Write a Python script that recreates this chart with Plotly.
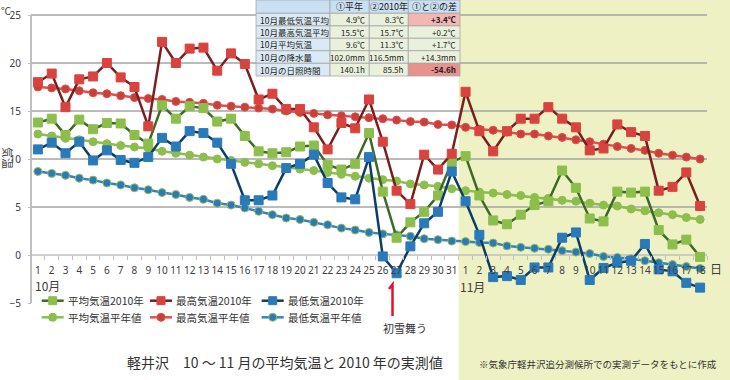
import plotly.graph_objects as go

# ---------------- data ----------------
oct_days = list(range(1, 32))
nov_days = list(range(1, 19))
categories = [f"10/{d}" for d in oct_days] + [f"11/{d}" for d in nov_days]
day_labels = [str(d) for d in oct_days] + [str(d) for d in nov_days]

avg_2010 = [13.8, 14.2, 12.5, 14.1, 13.1, 13.75, 13.7, 12.5, 11.6, 15.6, 14.2, 15.5, 15.3, 13.9, 14.2,
            12.4, 10.8, 10.6, 10.7, 11.3, 11.4, 9.4, 8.9, 9.5, 12.7, 6.6, 1.8, 3.4, 4.5, 6.2, 9.7,
            10.3, 6.2, 3.6, 3.2, 4.2, 5.2, 5.6, 8.8, 7.0, 3.8, 3.5, 6.6, 6.5, 6.6, 2.6, 1.1, 1.6, -0.2]
max_2010 = [18.0, 18.9, 15.4, 18.3, 18.6, 20.0, 18.5, 17.5, 13.4, 22.2, 20.0, 21.5, 21.6, 19.2, 21.0,
            19.9, 16.2, 16.8, 15.2, 15.2, 13.3, 11.0, 13.75, 13.2, 16.2, 11.8, 6.7, 5.3, 10.45, 8.9, 10.55,
            17.0, 12.9, 10.8, 12.9, 14.2, 14.2, 15.4, 14.2, 13.3, 10.9, 11.1, 13.6, 12.8, 12.4, 6.7, 7.1, 8.6, 5.1]
min_2010 = [11.0, 11.7, 10.6, 11.8, 9.85, 10.9, 9.9, 9.6, 10.2, 12.2, 11.3, 12.9, 12.7, 11.7, 9.5,
            5.7, 5.7, 6.2, 9.05, 9.5, 10.45, 7.5, 6.0, 5.8, 10.2, -0.15, -1.9, 0.9, 3.3, 4.5, 8.7,
            5.6, 2.1, -2.3, -2.2, -2.6, -1.3, -1.3, 1.8, 2.35, -2.6, -1.35, -0.8, -0.6, 1.15, -1.5, -1.7, -2.9, -3.4]
avg_normal = [12.6, 12.4, 12.15, 12.0, 11.8, 11.6, 11.4, 11.25, 11.1, 10.8, 10.6, 10.4, 10.2, 10.0, 9.85,
              9.65, 9.5, 9.3, 9.1, 8.95, 8.8, 8.6, 8.4, 8.2, 8.0, 7.85, 7.7, 7.4, 7.3, 7.15, 6.9,
              6.7, 6.55, 6.45, 6.3, 6.2, 6.0, 5.9, 5.7, 5.6, 5.4, 5.2, 5.1, 4.8, 4.6, 4.4, 4.2, 3.9, 3.7]
max_normal = [17.5, 17.4, 17.3, 17.1, 16.9, 16.8, 16.6, 16.4, 16.3, 16.2, 16.0, 15.9, 15.8, 15.6, 15.5,
              15.4, 15.3, 15.2, 15.0, 14.85, 14.75, 14.6, 14.5, 14.4, 14.3, 14.2, 14.05, 13.9, 13.85, 13.6, 13.55,
              13.3, 13.1, 13.0, 12.8, 12.6, 12.6, 12.4, 12.25, 12.0, 11.8, 11.55, 11.3, 11.1, 10.9, 10.6, 10.4, 10.2, 10.0]
min_normal = [8.7, 8.5, 8.3, 8.0, 7.8, 7.5, 7.3, 7.0, 6.8, 6.5, 6.3, 6.0, 5.8, 5.4, 5.2,
              4.9, 4.55, 4.2, 3.85, 3.7, 3.4, 3.15, 2.8, 2.6, 2.35, 2.2, 2.1, 1.95, 1.7, 1.6, 1.45,
              1.4, 1.3, 1.25, 0.95, 0.8, 0.7, 0.6, 0.45, 0.3, 0.15, -0.15, -0.25, -0.4, -0.6, -0.8, -1.0, -1.2, -1.4]

y_ticks = [-5, 0, 5, 10, 15, 20, 25]
grid_values = [5, 10, 15, 20, 25]
Y_MIN, Y_MAX = -5, 25

table_headers = ["", "①平年", "②2010年", "①と②の差"]
table_labels = ["10月最低気温平均", "10月最高気温平均", "10月平均気温", "10月の降水量", "10月の日照時間"]
table_normal = ["4.9℃", "15.5℃", "9.6℃", "102.0mm", "140.1h"]
table_2010 = ["8.3℃", "15.7℃", "11.3℃", "116.5mm", "85.5h"]
table_diff = ["+3.4℃", "+0.2℃", "+1.7℃", "+14.3mm", "-54.6h"]

# ---------------- geometry (figure pixels) ----------------
W, H = 730, 380
PL, PR, PT, PB = 31, 707, 15, 303          # area spanned by the value axes
N = len(categories)
cat_px = (PR - PL) / N
deg_px = (PB - PT) / (Y_MAX - Y_MIN)
x_range = [-0.5 - PL / cat_px, N - 0.5 + (W - PR) / cat_px]
y_range = [Y_MIN - (H - PB) / deg_px, Y_MAX + PT / deg_px]
FONT = "Noto Sans CJK JP"


def fx(x):
    return x / W


def fy(y):
    return 1 - y / H


fig = go.Figure()

# (name, values, symbol, line colour, marker colour, marker outline, legend row, legend column)
series = [
    ("平均気温平年値", avg_normal, "circle", "#8DBE4D", "#8DBE4D", "#8DBE4D", 1, 0),
    ("最高気温平年値", max_normal, "circle", "#E0504B", "#C8403B", "#E0504B", 1, 1),
    ("最低気温平年値", min_normal, "circle", "#2E86C1", "#2A7ABA", "#9BBB59", 1, 2),
    ("平均気温2010年", avg_2010, "square", "#3D6B25", "#8DBE4D", "#8DBE4D", 0, 0),
    ("最高気温2010年", max_2010, "square", "#7A1E1E", "#D9433F", "#D9433F", 0, 1),
    ("最低気温2010年", min_2010, "square", "#0E3D63", "#2A7ABA", "#2A7ABA", 0, 2),
]
for name, vals, sym, lc, mc, mlc, _, _ in series:
    fig.add_trace(go.Scatter(
        x=categories, y=vals, name=name, mode="lines+markers", showlegend=False,
        line=dict(color=lc, width=2.5),
        marker=dict(symbol=sym, size=9 if sym == "square" else 8, color=mc,
                    line=dict(color=mlc, width=1)),
    ))

shapes = []
# light yellow-green November background
shapes.append(dict(type="rect", xref="x", yref="paper",
                   x0=30.5, x1=x_range[1] + 1, y0=0, y1=1,
                   fillcolor="#EEF1C4", line=dict(width=0), layer="below"))
for g in grid_values:
    shapes.append(dict(type="line", xref="x", yref="y", x0=-0.5, x1=N - 0.5, y0=g, y1=g,
                       line=dict(color="#A5A5A5", width=1.3), layer="below"))
# axis lines
shapes.append(dict(type="line", xref="x", yref="y", x0=-0.5, x1=N - 0.5, y0=0, y1=0,
                   line=dict(color="#BFBFBF", width=1.5), layer="below"))
shapes.append(dict(type="line", xref="x", yref="y", x0=-0.5, x1=-0.5, y0=Y_MIN, y1=Y_MAX,
                   line=dict(color="#BFBFBF", width=2), layer="below"))

annotations = []

# ---------------- legend (drawn) ----------------
leg_cols = [41.7, 150, 261.7]
leg_rows = [300.7, 317.3]
for name, vals, sym, lc, mc, mlc, row, col in series:
    x0 = leg_cols[col]
    yc = leg_rows[row]
    shapes.append(dict(type="line", xref="paper", yref="paper",
                       x0=fx(x0), x1=fx(x0 + 22), y0=fy(yc), y1=fy(yc),
                       line=dict(color=lc, width=2.5), layer="above"))
    r = 4
    shapes.append(dict(type="rect" if sym == "square" else "circle", xref="paper", yref="paper",
                       x0=fx(x0 + 11 - r), x1=fx(x0 + 11 + r), y0=fy(yc + r), y1=fy(yc - r),
                       fillcolor=mc, line=dict(color=mlc, width=1), layer="above"))
    annotations.append(dict(xref="paper", yref="paper", x=fx(x0 + 24), y=fy(yc), text=name,
                            showarrow=False, xanchor="left", yanchor="middle",
                            font=dict(family=FONT, size=10.5, color="#333333")))

# ---------------- table ----------------
col_edges = [256, 330, 369.3, 408.3, 460]
row_edges = [0, 13.3, 25.9, 38.3, 50.7, 63.3, 76]
hdr_bg = "#C9DFF2"
lab_bg = "#DAEAF4"
cell_bg = "#E9F0DC"
pink1 = "#F2B6B3"
pink2 = "#E8918D"
for r in range(6):
    for c in range(4):
        if r == 0:
            bg = hdr_bg
        elif c == 0:
            bg = lab_bg
        elif c == 3 and r == 1:
            bg = pink1
        elif c == 3 and r == 5:
            bg = pink2
        else:
            bg = cell_bg
        shapes.append(dict(type="rect", xref="paper", yref="paper",
                           x0=fx(col_edges[c]), x1=fx(col_edges[c + 1]),
                           y0=fy(row_edges[r + 1]), y1=fy(row_edges[r]),
                           fillcolor=bg, line=dict(color="#A6A6A6", width=0.8), layer="above"))
for c, h in enumerate(table_headers):
    if h:
        annotations.append(dict(xref="paper", yref="paper", x=fx((col_edges[c] + col_edges[c + 1]) / 2),
                                y=fy((row_edges[0] + row_edges[1]) / 2), text=h, showarrow=False,
                                xanchor="center", yanchor="middle",
                                font=dict(family=FONT, size=9, color="#222222")))
for i in range(5):
    yc = fy((row_edges[i + 1] + row_edges[i + 2]) / 2)
    annotations.append(dict(xref="paper", yref="paper", x=fx(col_edges[0] + 2), y=yc,
                            text=table_labels[i], showarrow=False, xanchor="left", yanchor="middle",
                            font=dict(family=FONT, size=8.5, color="#222222")))
    for c, arr in ((1, table_normal), (2, table_2010), (3, table_diff)):
        txt = arr[i]
        if c == 3 and i in (0, 4):
            txt = f"<b>{txt}</b>"
        annotations.append(dict(xref="paper", yref="paper", x=fx(col_edges[c + 1] - 2), y=yc,
                                text=txt, showarrow=False, xanchor="right", yanchor="middle",
                                font=dict(family=FONT, size=8, color="#222222")))

# ---------------- other texts ----------------
annotations += [
    dict(xref="paper", yref="paper", x=fx(-1), y=fy(11), text="℃", showarrow=False,
         xanchor="left", yanchor="middle", font=dict(family=FONT, size=10, color="#404040")),
    dict(xref="paper", yref="paper", x=fx(8), y=fy(158), text="気温", showarrow=False, textangle=90,
         xanchor="center", yanchor="middle", font=dict(family=FONT, size=11, color="#404040")),
    dict(xref="paper", yref="paper", x=fx(48), y=fy(285), text="10月", showarrow=False,
         xanchor="center", yanchor="middle", borderpad=0,
         font=dict(family=FONT, size=12, color="#404040")),
    dict(xref="paper", yref="paper", x=fx(473), y=fy(286), text="11月", showarrow=False,
         xanchor="center", yanchor="middle", borderpad=0,
         font=dict(family=FONT, size=12, color="#404040")),
    dict(xref="paper", yref="paper", x=fx(716), y=fy(268), text="日", showarrow=False,
         xanchor="center", yanchor="middle", font=dict(family=FONT, size=12, color="#404040")),
    dict(xref="paper", yref="paper", x=fx(405), y=fy(328), text="初雪舞う", showarrow=False,
         xanchor="center", yanchor="middle", font=dict(family=FONT, size=11, color="#333333")),
    dict(xref="paper", yref="paper", x=fx(285), y=fy(361.5),
         text="軽井沢　10 ～ 11 月の平均気温と 2010 年の実測値", showarrow=False,
         xanchor="center", yanchor="middle", font=dict(family=FONT, size=14, color="#333333")),
    dict(xref="paper", yref="paper", x=fx(598), y=fy(364),
         text="※気象庁軽井沢追分測候所での実測データをもとに作成", showarrow=False,
         xanchor="center", yanchor="middle", font=dict(family=FONT, size=9.5, color="#333333")),
]

# red first-snow marker
shapes.append(dict(type="path", xref="paper", yref="paper",
                   path=(f"M {fx(389)},{fy(289)} L {fx(392.5)},{fy(284.5)} "
                         f"L {fx(392.5)},{fy(316)}"),
                   line=dict(color="#E8102A", width=2.5), layer="above"))

fig.update_layout(
    width=W, height=H,
    margin=dict(l=0, r=0, t=0, b=0, pad=0),
    paper_bgcolor="white", plot_bgcolor="rgba(0,0,0,0)",
    font=dict(family=FONT, color="#404040"),
    showlegend=False,
    xaxis=dict(type="category", categoryorder="array", categoryarray=categories,
               tickvals=categories, ticktext=day_labels, tickangle=0,
               tickson="boundaries", ticks="outside", ticklen=4, tickcolor="#BFBFBF",
               showline=False, anchor="free",
               position=(0 - y_range[0]) / (y_range[1] - y_range[0]),
               range=x_range, showgrid=False, zeroline=False, automargin=False,
               ticklabelstandoff=8,
               tickfont=dict(family="Noto Sans", size=10, color="#404040")),
    yaxis=dict(range=y_range, tickvals=y_ticks, showgrid=False, zeroline=False,
               showline=False, anchor="free", position=PL / W, automargin=False,
               ticks="outside", ticklen=3, tickcolor="#BFBFBF", ticklabelstandoff=5,
               tickfont=dict(family="Noto Sans", size=10, color="#404040")),
    shapes=shapes,
    annotations=annotations,
)

fig.write_html("out.html", config={"staticPlot": True},
               post_script="document.body.style.margin='0px';")
